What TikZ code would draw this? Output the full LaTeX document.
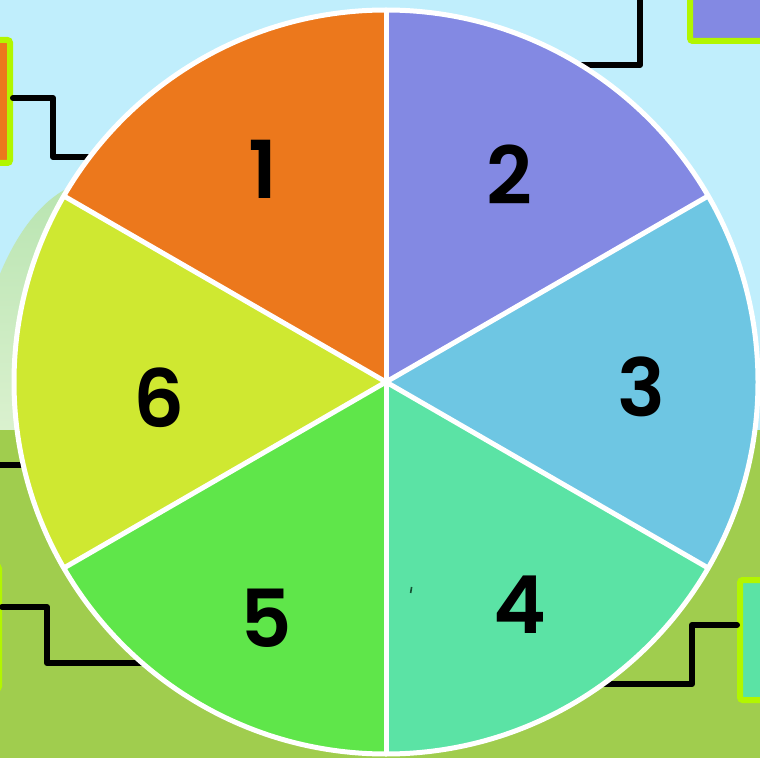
\documentclass[tikz,border=0pt]{standalone}
\usepackage{fontspec}
\IfFontExistsTF{Poppins SemiBold}{\newfontfamily\labfont{Poppins SemiBold}}{\IfFontExistsTF{Poppins Medium}{\newfontfamily\labfont{Poppins Medium}}{\newfontfamily\labfont{Poppins}[UprightFont=* Bold]}}
\definecolor{sky}{HTML}{C0EEFC}
\definecolor{ground}{HTML}{A0CD4E}
\definecolor{lime}{HTML}{B2F600}
\definecolor{cA}{HTML}{EC781C}
\definecolor{cB}{HTML}{8389E3}
\definecolor{cC}{HTML}{6EC6E3}
\definecolor{cD}{HTML}{5BE3A5}
\definecolor{cE}{HTML}{5FE64A}
\definecolor{cF}{HTML}{CFE831}
\tikzset{
  conn/.style={draw=black, line width=4.5pt, line join=round, line cap=round},
  tag/.style={draw=lime, line width=4.5pt, rounded corners=2pt, inner sep=0pt},
  sep/.style={draw=white, line width=3.75pt},
  num/.style={font=\labfont\fontsize{60}{60}\selectfont, inner sep=0pt}
}
\begin{document}
\begin{tikzpicture}[x=0.75pt,y=0.75pt]
\useasboundingbox (0,0) rectangle (760,758);
\begin{scope}
\clip (0,0) rectangle (760,758);
% background
\fill[sky] (0,0) rectangle (760,758);
\shade[top color={rgb,255:red,184;green,228;blue,176}, bottom color={rgb,255:red,255;green,255;blue,240}] (100,318) ellipse [x radius=130, y radius=260];
\fill[ground] (0,0) rectangle (760,328);

% tags
\node[tag, fill=cA, minimum width=15pt, minimum height=92.25pt] (b1) at (0,656.5) {};
\node[tag, fill=cB, minimum width=67.5pt, minimum height=38.25pt] (b2) at (735,742.5) {};
\node[tag, fill=cE, minimum width=14.25pt, minimum height=92.25pt] (b5) at (-10.5,130.5) {};
\node[tag, fill=cD, minimum width=37.5pt, minimum height=90pt] (b4) at (765,118) {};

% connector points
\coordinate (k1) at (53,660);
\coordinate (e1) at (95,601);
\coordinate (t2) at (640,775);
\coordinate (e2) at (570,693);
\coordinate (t6) at (-8,293);
\coordinate (e6) at (35,293);
\coordinate (k5) at (47,151);
\coordinate (e5) at (160,95);
\coordinate (k4) at (692,133);
\coordinate (e4) at (595,74);

\draw[conn] (b1.east |- k1) -- (k1) |- (e1);
\draw[conn] (t2) |- (e2);
\draw[conn] (t6) -- (e6);
\draw[conn] (b5.east |- k5) -- (k5) |- (e5);
\draw[conn] (b4.west |- k4) -- (k4) |- (e4);

% pie
\coordinate (c) at (386,376);
\fill[cA] (c) -- ++(90:372) arc[start angle=90, end angle=150, radius=372] -- cycle;
\fill[cB] (c) -- ++(30:372) arc[start angle=30, end angle=90, radius=372] -- cycle;
\fill[cC] (c) -- ++(-30:372) arc[start angle=-30, end angle=30, radius=372] -- cycle;
\fill[cD] (c) -- ++(-90:372) arc[start angle=-90, end angle=-30, radius=372] -- cycle;
\fill[cE] (c) -- ++(-150:372) arc[start angle=-150, end angle=-90, radius=372] -- cycle;
\fill[cF] (c) -- ++(150:372) arc[start angle=150, end angle=210, radius=372] -- cycle;
\foreach \a in {30,90,150,210,270,330} \draw[sep] (c) -- ++(\a:372);
\draw[sep] (c) circle[radius=372];

% small mark
\draw[line width=1.2pt, draw={rgb,255:red,20;green,80;blue,50}] (410.6,165) -- (411.6,171);

% labels
\node[num] (n1) at (263,589) {1};
\node[num] (n2) at (509,583) {2};
\node[num] (n3) at (641,371) {3};
\node[num] (n4) at (520,153) {4};
\node[num] (n5) at (266,140) {5};
\node[num] (n6) at (159,360) {6};
\end{scope}
\end{tikzpicture}
\end{document}
